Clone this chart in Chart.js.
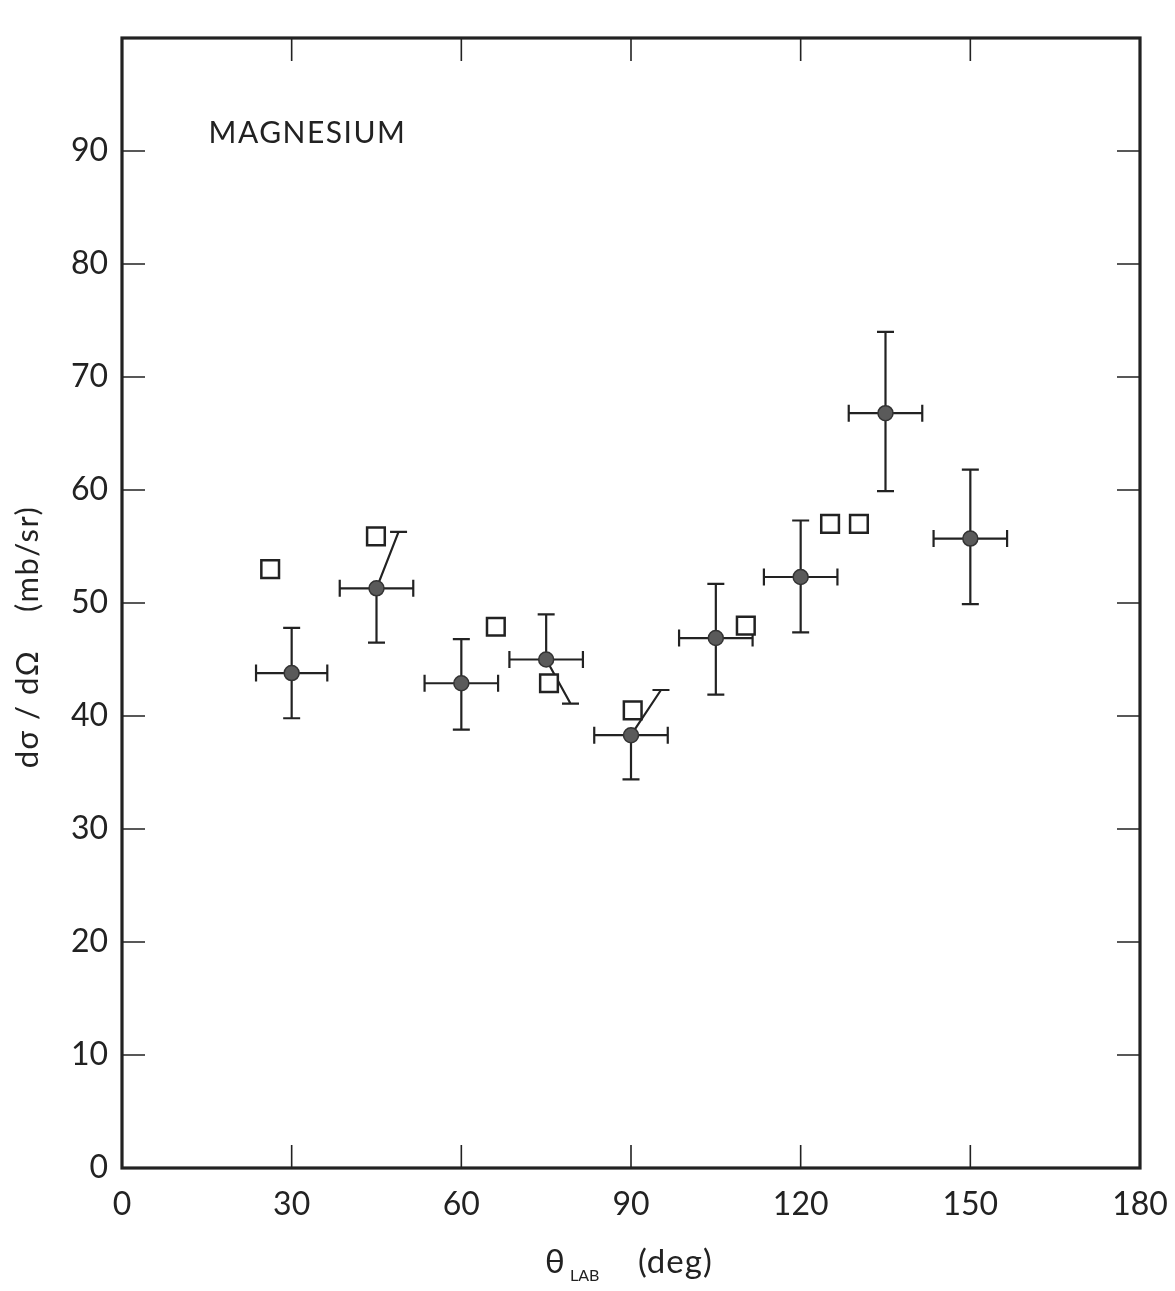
<!DOCTYPE html>
<html>
<head>
<meta charset="utf-8">
<script src="https://cdn.jsdelivr.net/npm/chart.js@4.4.0/dist/chart.umd.min.js"></script>
<style>
  html, body { margin: 0; padding: 0; background: #fff; overflow: hidden; }
  #wrap { width: 1175px; height: 1291px; }
</style>
</head>
<body>
<div id="wrap"><canvas id="chart"></canvas></div>
<script>
// measured points (filled circles)
const angles = [30, 45, 60, 75, 90, 105, 120, 135, 150];
const sigma = [43.8, 51.3, 42.9, 45.0, 38.3, 46.9, 52.3, 66.8, 55.7];
const sigmaLow = [39.8, 46.5, 38.8, 41.1, 34.4, 41.9, 47.4, 59.9, 49.9];
const sigmaHigh = [47.8, 56.3, 46.8, 49.0, 42.3, 51.7, 57.3, 74.0, 61.8];
// x of the end of the error bar (differs where the bar is slanted)
const lowEndAngle = [30, 45, 60, 79.3, 90, 105, 120, 135, 150];
const highEndAngle = [30, 48.9, 60, 75, 95.3, 105, 120, 135, 150];
const angleErr = [6.3, 6.5, 6.5, 6.5, 6.5, 6.5, 6.5, 6.5, 6.5];

// open squares
const sqAngles = [26.2, 44.9, 66.1, 75.5, 90.3, 110.3, 125.2, 130.3];
const sqValues = [53.0, 55.9, 47.9, 42.9, 40.5, 48.0, 57.0, 57.0];

const xTicks = [0, 30, 60, 90, 120, 150, 180];
const yTicks = [0, 10, 20, 30, 40, 50, 60, 70, 80, 90];

const INK = "#222";
const FONT = "Lato";

const errorBars = {
    id: "errorBars",
    beforeDatasetsDraw(chart) {
        const { ctx, scales: { x, y } } = chart;
        const cap = 8.5;
        ctx.save();
        ctx.strokeStyle = INK;
        ctx.lineWidth = 2.2;
        angles.forEach((a, i) => {
            const px = x.getPixelForValue(a);
            const py = y.getPixelForValue(sigma[i]);
            const hx = x.getPixelForValue(highEndAngle[i]);
            const hy = y.getPixelForValue(sigmaHigh[i]);
            const lx = x.getPixelForValue(lowEndAngle[i]);
            const ly = y.getPixelForValue(sigmaLow[i]);
            const x1 = x.getPixelForValue(a - angleErr[i]);
            const x2 = x.getPixelForValue(a + angleErr[i]);
            ctx.beginPath();
            ctx.moveTo(px, py); ctx.lineTo(hx, hy);
            ctx.moveTo(hx - cap, hy); ctx.lineTo(hx + cap, hy);
            ctx.moveTo(px, py); ctx.lineTo(lx, ly);
            ctx.moveTo(lx - cap, ly); ctx.lineTo(lx + cap, ly);
            ctx.moveTo(x1, py); ctx.lineTo(x2, py);
            ctx.moveTo(x1, py - cap); ctx.lineTo(x1, py + cap);
            ctx.moveTo(x2, py - cap); ctx.lineTo(x2, py + cap);
            ctx.stroke();
        });
        ctx.restore();
    }
};

const frame = {
    id: "frame",
    afterDraw(chart) {
        const { ctx, chartArea: a, scales: { x, y } } = chart;
        const tick = 23;
        ctx.save();
        ctx.strokeStyle = INK;
        ctx.lineWidth = 1.6;
        ctx.beginPath();
        yTicks.slice(1).forEach(v => {
            const py = y.getPixelForValue(v);
            ctx.moveTo(a.left, py); ctx.lineTo(a.left + tick, py);
            ctx.moveTo(a.right, py); ctx.lineTo(a.right - tick, py);
        });
        xTicks.slice(1, -1).forEach(v => {
            const px = x.getPixelForValue(v);
            ctx.moveTo(px, a.bottom); ctx.lineTo(px, a.bottom - tick);
            ctx.moveTo(px, a.top); ctx.lineTo(px, a.top + tick);
        });
        ctx.stroke();
        ctx.lineWidth = 3.2;
        ctx.strokeRect(a.left, a.top, a.right - a.left, a.bottom - a.top);

        // label inside the plot
        ctx.fillStyle = INK;
        ctx.font = `30px ${FONT}`;
        ctx.letterSpacing = "1.5px";
        ctx.textAlign = "left";
        ctx.textBaseline = "middle";
        ctx.fillText("MAGNESIUM", x.getPixelForValue(15.3), y.getPixelForValue(91.6));
        ctx.letterSpacing = "0px";

        // x title with subscript
        const ty = 1262;
        ctx.font = `33px ${FONT}`;
        ctx.fillText("θ", 545, ty);
        ctx.font = `16px ${FONT}`;
        ctx.fillText("LAB", 570, ty + 14);
        ctx.font = `33px ${FONT}`;
        ctx.letterSpacing = "1px";
        ctx.fillText("(deg)", 638, ty);

        // y title
        ctx.translate(28, 637);
        ctx.rotate(-Math.PI / 2);
        ctx.textAlign = "center";
        ctx.font = `31px ${FONT}`;
        ctx.letterSpacing = "1.5px";
        ctx.fillText("dσ / dΩ    (mb/sr)", 0, 0);
        ctx.restore();
    }
};

new Chart(document.getElementById("chart"), {
    type: "scatter",
    data: {
        datasets: [
            {
                label: "circles",
                data: angles.map((a, i) => ({ x: a, y: sigma[i] })),
                pointStyle: "circle",
                pointRadius: 7.5,
                backgroundColor: "#5a5a5a",
                borderColor: "#333",
                borderWidth: 1.5
            },
            {
                label: "squares",
                data: sqAngles.map((a, i) => ({ x: a, y: sqValues[i] })),
                pointStyle: "rect",
                pointRadius: 12.5,
                backgroundColor: "#fff",
                borderColor: INK,
                borderWidth: 2.5
            }
        ]
    },
    options: {
        responsive: true,
        maintainAspectRatio: false,
        animation: false,
        layout: { padding: { top: 38, right: 35, left: 0, bottom: 0 } },
        plugins: {
            legend: { display: false },
            tooltip: { enabled: false }
        },
        scales: {
            x: {
                type: "linear",
                min: 0,
                max: 180,
                afterBuildTicks: s => { s.ticks = xTicks.map(v => ({ value: v })); },
                afterFit: s => { s.height = 123; s.paddingLeft = 0; s.paddingRight = 0; },
                grid: { display: false, drawTicks: false },
                border: { display: false },
                ticks: { color: INK, padding: 17, font: { family: FONT, size: 32 }, maxRotation: 0 }
            },
            y: {
                min: 0,
                max: 100,
                afterBuildTicks: s => { s.ticks = yTicks.map(v => ({ value: v })); },
                afterFit: s => { s.width = 122; s.paddingTop = 0; s.paddingBottom = 0; },
                grid: { display: false, drawTicks: false },
                border: { display: false },
                ticks: { color: INK, padding: 14, font: { family: FONT, size: 32 } }
            }
        }
    },
    plugins: [errorBars, frame]
});
</script>
</body>
</html>
